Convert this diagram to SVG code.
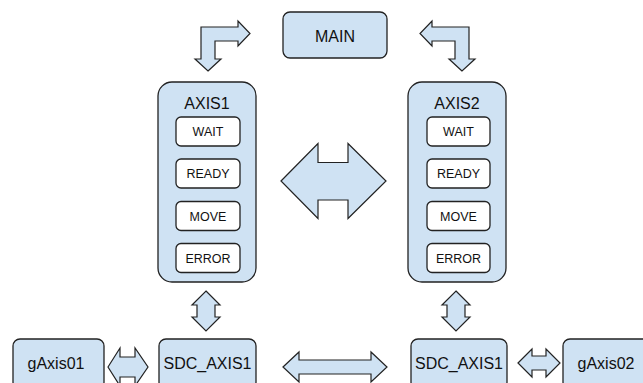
<svg xmlns="http://www.w3.org/2000/svg" width="643" height="383" viewBox="0 0 643 383">
<style>
.box{fill:#cfe2f3;stroke:#222;stroke-width:1.3}
.st{fill:#fff;stroke:#222;stroke-width:1.3}
.arr{fill:#cfe2f3;stroke:#222;stroke-width:1.2;stroke-linejoin:miter}
.t{font-family:"Liberation Sans",Arial,sans-serif;font-size:16px;fill:#111;text-anchor:middle}
.s{font-family:"Liberation Sans",Arial,sans-serif;font-size:12.5px;fill:#111;text-anchor:middle}
</style>
<rect width="643" height="383" fill="#fff"/>
<g id="connectors">
<polygon class="arr" points="208,71 221,59 215,59 215,41 238,41 238,46 250,33.5 238,21 238,27 201,27 201,59 195,59"/>
<polygon class="arr" points="462,71 449,59 455,59 455,41 432,41 432,46 420,33.5 432,21 432,27 469,27 469,59 475,59"/>
<polygon class="arr" points="281,181 318,143.5 318,162.5 348,162.5 348,143.5 386,181 348,218.5 348,200 318,200 318,218.5"/>
<polygon class="arr" points="206,291 220,305 215,305 215,317 220,317 206,331 192,317 197,317 197,305 192,305"/>
<polygon class="arr" points="456,291 470,305 465,305 465,317 470,317 456,331 442,317 447,317 447,305 442,305"/>
<polygon class="arr" points="108,367 120,348 120,357 135,357 135,348 148,367 135,386 135,377 120,377 120,386"/>
<polygon class="arr" points="283,367 299,352 299,360 371,360 371,352 387,367 371,382 371,374 299,374 299,382"/>
<polygon class="arr" points="518,363 532,349 532,356 546,356 546,349 560,363 546,377 546,370 532,370 532,377"/>
</g>
<g id="main">
<rect class="box" x="283" y="12" width="104" height="46" rx="7"/>
<text class="t" x="335" y="42">MAIN</text>
</g>
<g id="axis1">
<rect class="box" x="158" y="82" width="98" height="200" rx="14"/>
<text class="t" x="207" y="109">AXIS1</text>
<g id="axis1-wait"><rect class="st" x="176" y="117" width="64" height="29" rx="5"/><text class="s" x="208" y="136">WAIT</text></g>
<g id="axis1-ready"><rect class="st" x="176" y="159" width="64" height="29" rx="5"/><text class="s" x="208" y="178">READY</text></g>
<g id="axis1-move"><rect class="st" x="176" y="201.5" width="64" height="29" rx="5"/><text class="s" x="208" y="220.5">MOVE</text></g>
<g id="axis1-error"><rect class="st" x="176" y="243.5" width="64" height="29" rx="5"/><text class="s" x="208" y="262.5">ERROR</text></g>
</g>
<g id="axis2">
<rect class="box" x="408" y="82" width="98" height="200" rx="14"/>
<text class="t" x="457" y="109">AXIS2</text>
<g id="axis2-wait"><rect class="st" x="427" y="117" width="63" height="29" rx="5"/><text class="s" x="458.5" y="136">WAIT</text></g>
<g id="axis2-ready"><rect class="st" x="427" y="159" width="63" height="29" rx="5"/><text class="s" x="458.5" y="178">READY</text></g>
<g id="axis2-move"><rect class="st" x="427" y="201.5" width="63" height="29" rx="5"/><text class="s" x="458.5" y="220.5">MOVE</text></g>
<g id="axis2-error"><rect class="st" x="427" y="243.5" width="63" height="29" rx="5"/><text class="s" x="458.5" y="262.5">ERROR</text></g>
</g>
<g id="gaxis01">
<rect class="box" x="13" y="339" width="91" height="50" rx="7"/>
<text class="t" x="56" y="369">gAxis01</text>
</g>
<g id="sdc1">
<rect class="box" x="159" y="339" width="97" height="50" rx="7"/>
<text class="t" x="207.5" y="369">SDC_AXIS1</text>
</g>
<g id="sdc2">
<rect class="box" x="411" y="339" width="96" height="50" rx="7"/>
<text class="t" x="459" y="369">SDC_AXIS1</text>
</g>
<g id="gaxis02">
<rect class="box" x="563" y="339" width="88" height="50" rx="7"/>
<text class="t" x="606" y="369">gAxis02</text>
</g>
</svg>
